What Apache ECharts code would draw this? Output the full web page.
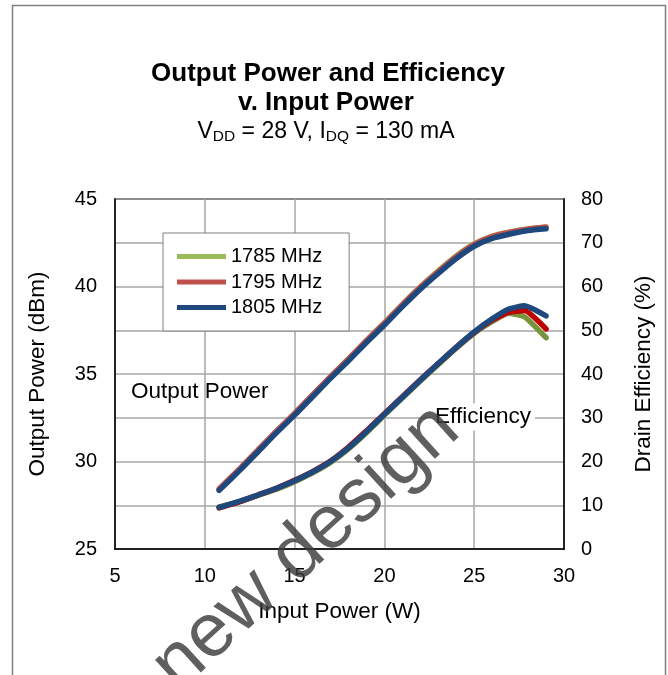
<!DOCTYPE html>
<html>
<head>
<meta charset="utf-8">
<script src="https://cdn.jsdelivr.net/npm/echarts@6/dist/echarts.min.js"></script>
<style>
  html, body { margin: 0; padding: 0; background: #fff; }
  #chart { width: 668px; height: 675px; }
</style>
</head>
<body>
<div id="chart"></div>
<script>
// input power (W)
const inputW = [10.8, 12, 13, 14, 15, 16, 17, 18, 19, 20, 21, 22, 23, 24, 25, 26, 27, 28, 29];
// output power (dBm)
const pout1785 = [28.4, 29.6, 30.68, 31.72, 32.72, 33.78, 34.85, 35.87, 36.92, 37.93, 38.98, 39.98, 40.9, 41.75, 42.43, 42.88, 43.12, 43.28, 43.38];
const pout1795 = [28.45, 29.65, 30.7, 31.75, 32.75, 33.8, 34.85, 35.85, 36.9, 37.9, 38.95, 39.95, 40.85, 41.7, 42.4, 42.85, 43.1, 43.28, 43.4];
const pout1805 = [28.35, 29.55, 30.6, 31.65, 32.65, 33.7, 34.75, 35.75, 36.8, 37.8, 38.85, 39.85, 40.75, 41.6, 42.3, 42.75, 43.0, 43.2, 43.3];

// drain efficiency (%)
const effInputW = [10.8, 12, 13, 14, 15, 16, 17, 18, 19, 20, 21, 22, 23, 24, 25, 26, 26.9, 27.8, 29];
const eff1785 = [9.6, 10.9, 12.3, 13.7, 15.4, 17.4, 19.8, 22.9, 26.6, 30.6, 34.5, 38.4, 42.2, 45.9, 49.3, 52.0, 53.9, 53.1, 48.3];
const eff1795 = [9.4, 10.9, 12.4, 13.9, 15.7, 17.7, 20.1, 23.3, 27.0, 30.9, 34.8, 38.7, 42.4, 46.1, 49.5, 52.3, 54.1, 54.5, 50.3];
const eff1805 = [9.5, 11.0, 12.4, 13.9, 15.6, 17.6, 20.0, 23.1, 26.8, 30.8, 34.7, 38.6, 42.4, 46.1, 49.6, 52.6, 54.8, 55.6, 53.3];

const freqs = ['1785 MHz', '1795 MHz', '1805 MHz'];
const poutColors = ['#9bbb59', '#c0504d', '#1f497d'];
const effColors = ['#77933c', '#c00000', '#1f497d'];

const FONT = 'Liberation Sans, Arial, sans-serif';

function pairs(xs, ys) {
    return xs.map((x, i) => [x, ys[i]]);
}

const chart = echarts.init(document.getElementById('chart'));

const poutAll = [pout1785, pout1795, pout1805];
const effAll = [eff1785, eff1795, eff1805];

const series = [];
freqs.forEach((name, i) => {
    series.push({
        name: name,
        type: 'line',
        yAxisIndex: 0,
        showSymbol: false,
        symbol: 'none',
        smooth: 0.2,
        data: pairs(inputW, poutAll[i]),
        itemStyle: { color: poutColors[i] },
        lineStyle: { color: poutColors[i], width: 5.5, cap: 'round' },
        z: 2 + i,
    });
});
freqs.forEach((name, i) => {
    series.push({
        name: 'eff ' + name,
        type: 'line',
        yAxisIndex: 1,
        showSymbol: false,
        symbol: 'none',
        smooth: 0.15,
        data: pairs(effInputW, effAll[i]),
        itemStyle: { color: effColors[i] },
        lineStyle: { color: effColors[i], width: 5.5, cap: 'round' },
        z: 2 + i,
    });
});

const option = {
    animation: false,
    backgroundColor: '#fff',
    textStyle: { fontFamily: FONT },
    grid: {
        left: 115,
        right: 104,
        top: 199,
        bottom: 126,
        show: true,
        borderColor: '#000',
        borderWidth: 1.5,
    },
    legend: {
        data: freqs,
        orient: 'vertical',
        left: 163,
        top: 233,
        icon: 'rect',
        itemWidth: 49,
        itemHeight: 5,
        itemGap: 5.5,
        padding: [13.5, 27, 13.5, 14],
        backgroundColor: '#fff',
        borderColor: '#7f7f7f',
        borderWidth: 1,
        textStyle: { fontSize: 20, lineHeight: 20, color: '#000', fontFamily: FONT },
    },
    xAxis: {
        type: 'value',
        min: 5,
        max: 30,
        interval: 5,
        name: 'Input Power (W)',
        nameLocation: 'middle',
        nameGap: 51,
        nameTextStyle: { fontSize: 22.5, color: '#000', fontFamily: FONT },
        axisLine: { lineStyle: { color: '#000', width: 1.5 } },
        axisTick: { show: false },
        axisLabel: { fontSize: 20, color: '#000', margin: 17, fontFamily: FONT },
        splitLine: { show: true, lineStyle: { color: '#a6a6a6', width: 1.5 } },
    },
    yAxis: [
        {
            type: 'value',
            min: 25,
            max: 45,
            interval: 5,
            name: 'Output Power (dBm)',
            nameLocation: 'middle',
            nameGap: 66,
            nameTextStyle: { fontSize: 22.5, color: '#000', fontFamily: FONT },
            axisLine: { show: true, lineStyle: { color: '#000', width: 1.5 } },
            axisTick: { show: false },
            axisLabel: { fontSize: 20, color: '#000', margin: 18, fontFamily: FONT },
            splitLine: { show: false },
        },
        {
            type: 'value',
            min: 0,
            max: 80,
            interval: 10,
            name: 'Drain Efficiency (%)',
            nameLocation: 'middle',
            nameGap: 68,
            nameTextStyle: { fontSize: 22.5, color: '#000', fontFamily: FONT },
            axisLine: { show: true, lineStyle: { color: '#000', width: 1.5 } },
            axisTick: { show: false },
            axisLabel: { fontSize: 20, color: '#000', margin: 17, fontFamily: FONT },
            splitLine: { show: true, lineStyle: { color: '#a6a6a6', width: 1.5 } },
        },
    ],
    graphic: [
        {
            type: 'rect',
            shape: { x: 12.5, y: 5.5, width: 653, height: 700 },
            style: { fill: 'none', stroke: '#7f7f7f', lineWidth: 1.5 },
            silent: true,
            z: 0,
        },
        {
            type: 'text',
            style: {
                x: 328, y: 74,
                text: 'Output Power and Efficiency',
                font: 'bold 26px ' + FONT,
                fill: '#000',
                align: 'center',
                verticalAlign: 'middle',
            },
        },
        {
            type: 'text',
            style: {
                x: 326, y: 103,
                text: 'v. Input Power',
                font: 'bold 26px ' + FONT,
                fill: '#000',
                align: 'center',
                verticalAlign: 'middle',
            },
        },
        {
            type: 'text',
            style: {
                x: 326, y: 132,
                text: '{n|V}{s|DD}{n| = 28 V, I}{s|DQ}{n| = 130 mA}',
                align: 'center',
                verticalAlign: 'middle',
                rich: {
                    n: { fontSize: 23, lineHeight: 26, fontFamily: FONT, color: '#000' },
                    s: { fontSize: 15.5, lineHeight: 14, verticalAlign: 'bottom', fontFamily: FONT, color: '#000' },
                },
            },
        },
        {
            type: 'text',
            style: {
                x: 131, y: 392,
                text: 'Output Power',
                font: '22.5px ' + FONT,
                fill: '#000',
                align: 'left',
                verticalAlign: 'middle',
            },
            z: 10,
        },
        {
            type: 'text',
            style: {
                x: 483, y: 417,
                text: 'Efficiency',
                font: '22.5px ' + FONT,
                fill: '#000',
                align: 'center',
                verticalAlign: 'middle',
                backgroundColor: '#fff',
                padding: [2, 4],
            },
            z: 10,
        },
        {
            type: 'text',
            x: 306,
            y: 548,
            rotation: 0.74,
            style: {
                x: 0, y: 0,
                text: 'new design',
                font: '76px ' + FONT,
                fill: 'rgba(60,60,60,0.82)',
                align: 'center',
                verticalAlign: 'middle',
            },
            silent: true,
            z: 20,
        },
    ],
    series: series,
};

chart.setOption(option);
</script>
</body>
</html>
